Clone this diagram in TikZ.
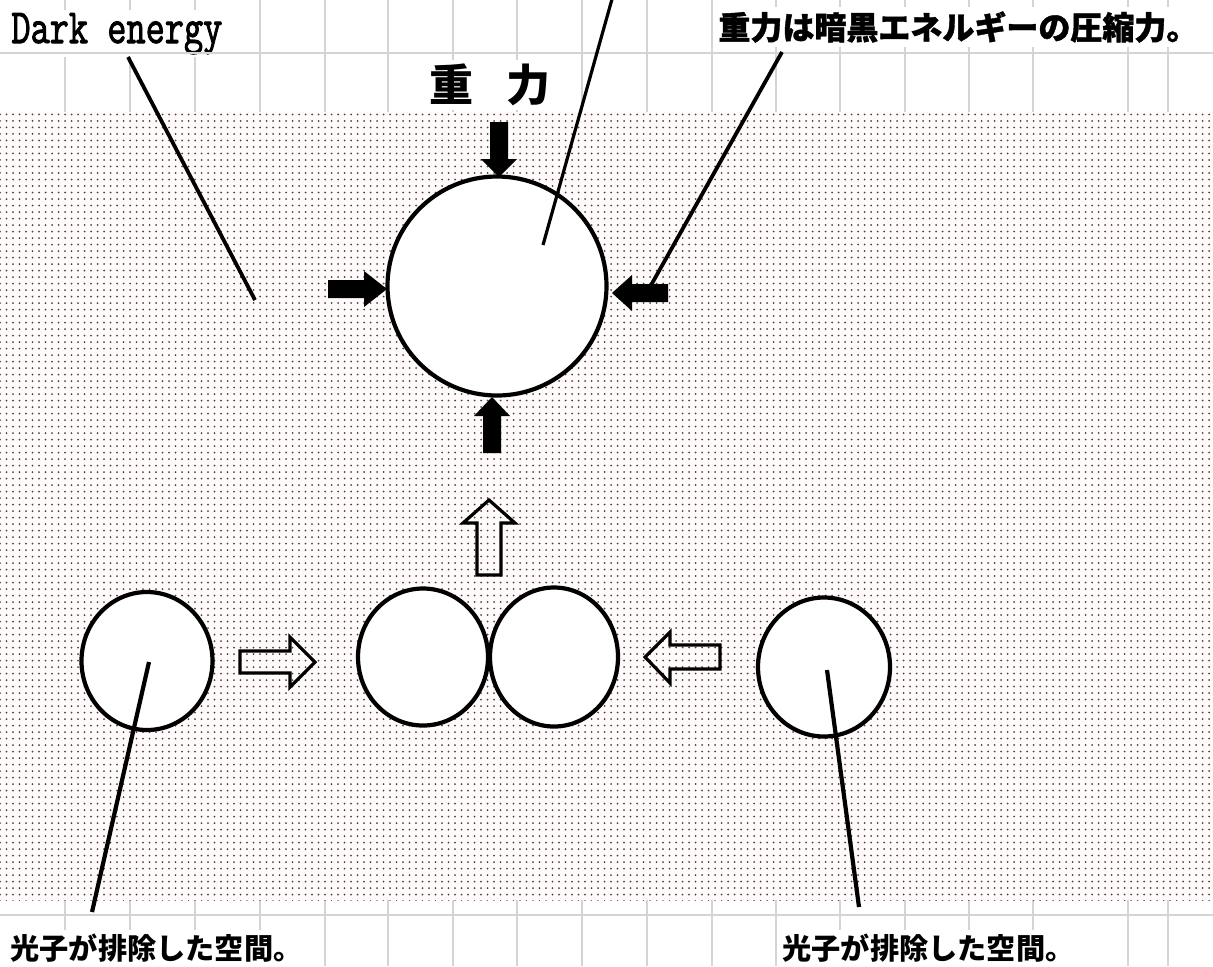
\documentclass[tikz,border=0pt]{standalone}
\usepackage{fontspec}
\newfontfamily\jp{Noto Sans CJK JP}
\newfontfamily\demono{Latin Modern Mono}[FakeBold=2.2]
\usetikzlibrary{shapes.geometric,patterns.meta}
\definecolor{gridgray}{RGB}{212,212,212}
\definecolor{dotcol}{RGB}{85,62,62}
\definecolor{fieldbg}{RGB}{255,251,251}
\tikzdeclarepattern{
  name=mydots,
  type=uncolored,
  bounding box={(-1.625pt,-1.625pt) and (1.625pt,1.625pt)},
  tile size={(3.25pt,3.25pt)},
  code={\fill (0pt,0pt) circle (0.5pt);}
}
\tikzset{
  gridline/.style={draw=gridgray, line width=0.7pt},
  lab/.style={fill=white, inner sep=2pt, text=black},
  ball/.style={draw=black, fill=white, line width=2.1pt, inner sep=0pt},
  leader/.style={draw=black, line width=1.9pt},
  solidarrow/.style={fill=black},
  openarrow/.style={draw=black, line width=1.6pt, line join=miter}
}
\begin{document}
\begin{tikzpicture}[x=0.5pt,y=-0.5pt]
\useasboundingbox (0,0) rectangle (1213,966);
\fill[white] (0,0) rectangle (1213,966);
% spreadsheet grid
\foreach \gx in {65,130,195,260,325,388,453,517,582,647,712,776,840,905,969,1033,1128,1168}
  \draw[gridline] (\gx,0) -- (\gx,966);
% labels
\node[lab, anchor=base west, inner sep=1.5pt] (de) at (8,43)
  {\scalebox{0.76}[1]{\fontsize{24.5}{26}\selectfont\demono Dark energy}};
\node[lab, anchor=west] (grav) at (714,27)
  {\fontsize{16}{18}\selectfont\jp\bfseries\addfontfeature{FakeBold=1.2}重力は暗黒エネルギーの圧縮力。};
\node[lab] (jr) at (490,85)
  {\fontsize{22}{24}\selectfont\jp\bfseries 重\hspace{17pt}力};
\node[lab, anchor=west] (pl) at (6,948)
  {\fontsize{14.6}{16}\selectfont\jp\bfseries 光子が排除した空間。};
\node[lab, anchor=west] (pr) at (778,948)
  {\fontsize{14.6}{16}\selectfont\jp\bfseries 光子が排除した空間。};
\draw[gridline] (0,53) -- (1213,53);
\draw[gridline] (0,915) -- (1213,915);
% dotted dark-energy field
\fill[fieldbg] (0,112) rectangle (1213,900);
\fill[pattern=mydots, pattern color=dotcol] (0,112) rectangle (1213,900);
% spheres
\node[ball, circle, minimum size=109.5pt] (big) at (497,286) {};
\node[ball, ellipse, minimum width=65.5pt, minimum height=69pt] (c1) at (147,661) {};
\node[ball, ellipse, minimum width=65pt, minimum height=68.5pt] (c2) at (423,657) {};
\node[ball, ellipse, minimum width=64pt, minimum height=69.5pt] (c3) at (554,657) {};
\node[ball, ellipse, minimum width=66pt, minimum height=69.5pt] (c4) at (824,667) {};
% solid gravity arrows
\fill[solidarrow] (490,122) -- (508,122) -- (508,159) -- (517,159) -- (499,177) -- (481,159) -- (490,159) -- cycle;
\fill[solidarrow] (328,280) -- (364,280) -- (364,271) -- (387,289) -- (364,307) -- (364,298) -- (328,298) -- cycle;
\fill[solidarrow] (668,284) -- (632,284) -- (632,275) -- (612,293) -- (632,311) -- (632,302) -- (668,302) -- cycle;
\fill[solidarrow] (483,453) -- (483,416) -- (474,416) -- (492,397) -- (510,416) -- (501,416) -- (501,453) -- cycle;
% hollow arrows
\draw[openarrow] (240,651) -- (290,651) -- (290,637) -- (315,662) -- (290,687) -- (290,673) -- (240,673) -- cycle;
\draw[openarrow] (720,645) -- (670,645) -- (670,632) -- (645,657) -- (670,683) -- (670,669) -- (720,669) -- cycle;
\draw[openarrow] (477,575) -- (477,523) -- (463,523) -- (489,500) -- (515,523) -- (501,523) -- (501,575) -- cycle;
% leader lines
\coordinate (deA) at (128,57);
\coordinate (deB) at (255,300);
\coordinate (topA) at (614,-8);
\coordinate (topB) at (543,245);
\coordinate (gA) at (782,52);
\coordinate (gB) at (650,287);
\coordinate (plA) at (92,912);
\coordinate (plB) at (149,662);
\coordinate (prA) at (859,907);
\coordinate (prB) at (827,670);
\draw[leader] (deA) -- (deB);
\draw[leader, line width=1.6pt] (topA) -- (topB);
\draw[leader] (gA) -- (gB);
\draw[leader, line width=2.1pt] (plA) -- (plB);
\draw[leader, line width=2.1pt] (prA) -- (prB);
\end{tikzpicture}
\end{document}
